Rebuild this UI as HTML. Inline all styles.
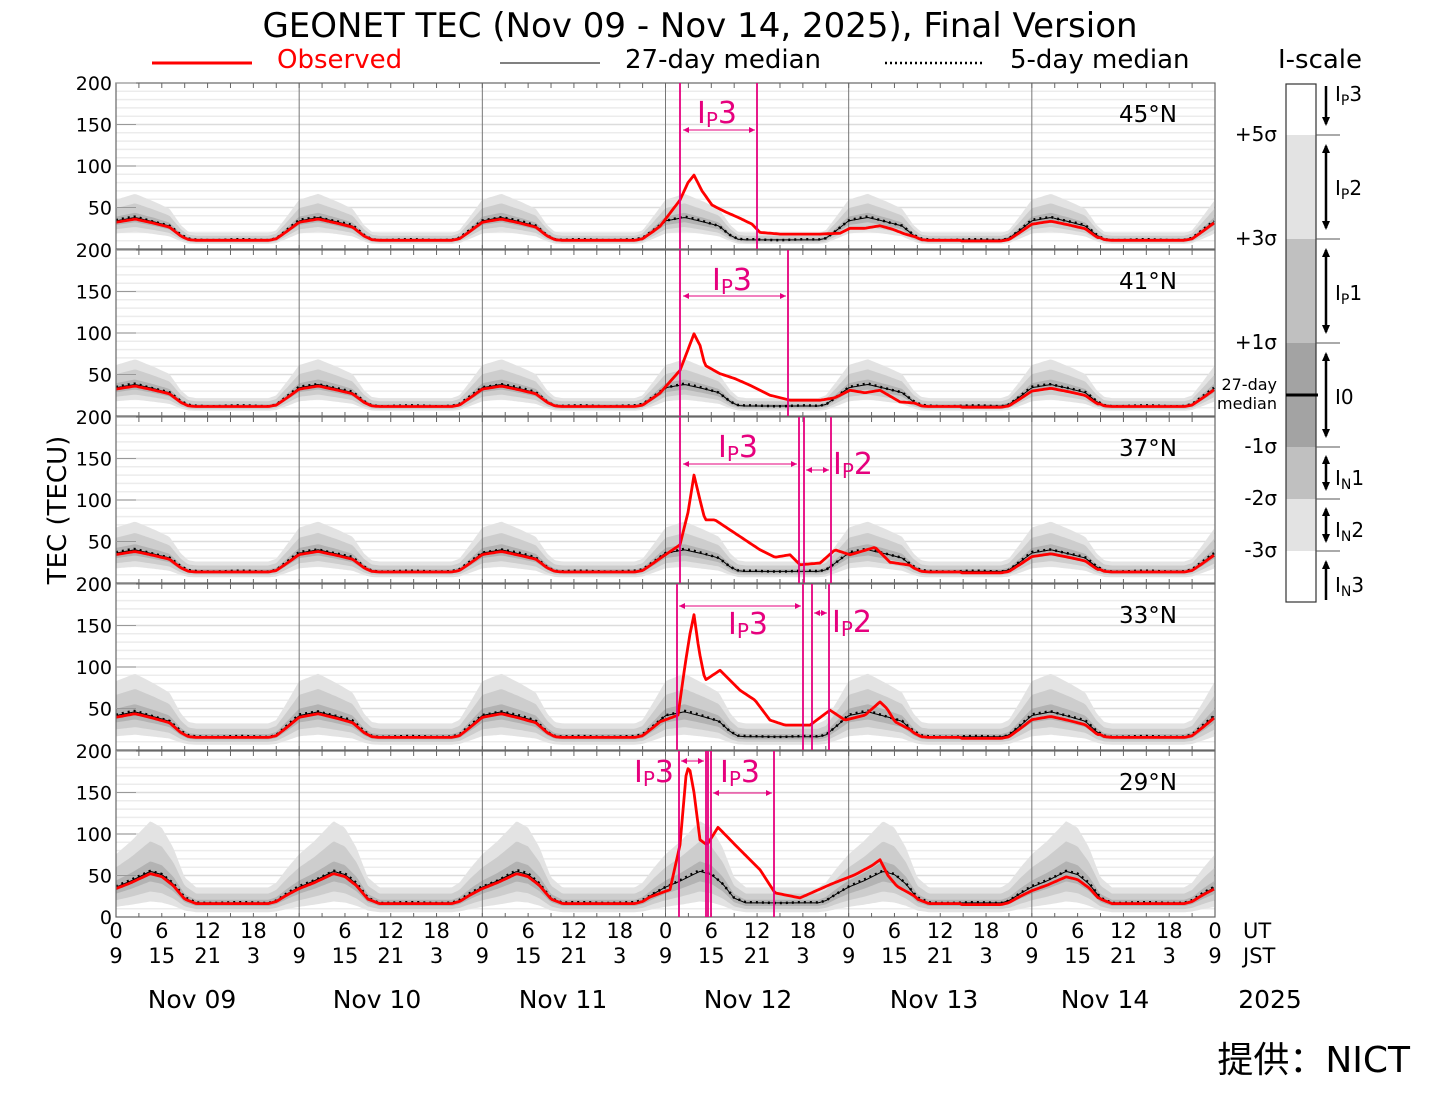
<!DOCTYPE html>
<html><head><meta charset="utf-8"><style>
body{margin:0;background:#fff;}
svg text{font-family:"DejaVu Sans","Liberation Sans",sans-serif;}
</style></head><body>
<svg id="s" width="1437" height="1106" xmlns="http://www.w3.org/2000/svg"></svg>
<script>
const S=document.getElementById('s');let h='';
const X0=116,X1=1215,DW=(X1-X0)/6,K=0.83;
const M='#e6007e';
function tx(x,y,t,sz,anc,fill,extra){h+=`<text x="${x}" y="${y}" font-size="${sz}" text-anchor="${anc||'start'}" fill="${fill||'#000'}" ${extra||''}>${t}</text>`;}
tx(700,37,'GEONET TEC (Nov 09 - Nov 14, 2025), Final Version',34,'middle');
h+=`<line x1="152" y1="63" x2="252" y2="63" stroke="red" stroke-width="3"/>`;
tx(277,68,'Observed',26,'start','red');
h+=`<line x1="500" y1="63" x2="600" y2="63" stroke="#000" stroke-width="1"/>`;
tx(625,68,'27-day median',26);
h+=`<line x1="885" y1="63" x2="983" y2="63" stroke="#000" stroke-width="2.5" stroke-dasharray="2,3"/>`;
tx(1010,68,'5-day median',26);
tx(1320,68,'I-scale',26,'middle');
const shapeA=[[0,.85],[2.5,1],[5,.8],[7,.62],[8.5,.2],[9.5,.03],[10.5,0],[20,0],[21,.07],[22.5,.45],[24,.85]];
const shapeB=[[0,.5],[2,.7],[4.5,1],[6,.9],[7.5,.6],[9,.15],[10.5,0],[20,0],[21,.07],[22.5,.3],[24,.5]];
const panels=[
 {b:249,lab:'45°N',N:11,P:38,f:0.15,sh:shapeA,obs:[[660,0],[680,59],[688,80],[694,89],[702,70],[712,53],[725,45],[740,37],[752,30],[760,20],[780,18],[800,18],[820,18],[840,19],[850,25],[865,25],[880,28],[892,24],[905,18],[915,0]]},
 {b:416,lab:'41°N',N:12,P:38,f:0.16,sh:shapeA,obs:[[660,0],[680,55],[688,80],[694,99],[700,85],[705,61],[720,51],[735,45],[750,37],[770,25],[790,19],[820,19],[835,22],[850,31],[865,28],[880,31],[900,17],[915,0]]},
 {b:583,lab:'37°N',N:14,P:40,f:0.17,sh:shapeA,obs:[[660,0],[680,46],[688,85],[694,130],[700,100],[705,76],[715,76],[735,60],[760,40],[775,31],[790,34],[800,22],[820,24],[835,40],[850,34],[875,43],[890,25],[910,0]]},
 {b:750,lab:'33°N',N:16,P:46,f:0.2,sh:shapeA,obs:[[660,0],[678,42],[685,102],[690,140],[694,163],[699,120],[705,84],[720,96],[740,72],[755,60],[770,36],[785,30],[810,30],[830,48],[845,36],[865,42],[880,58],[887,50],[895,34],[910,0]]},
 {b:917,lab:'29°N',N:17,P:55,f:0.22,sh:shapeB,obs:[[650,0],[670,33],[680,87],[686,170],[689,183],[694,150],[700,93],[707,87],[718,108],[740,81],[760,57],[775,29],[800,23],[830,39],[855,51],[872,62],[880,69],[888,50],[897,37],[915,0]]}
];
function interp(arr,x){if(x<=arr[0][0])return arr[0][1];for(let i=1;i<arr.length;i++){if(x<=arr[i][0]){const a=arr[i-1],b=arr[i];return a[1]+(b[1]-a[1])*(x-a[0])/(b[0]-a[0]);}}return arr[arr.length-1][1];}
function med(p,x){const t=((x-X0)/DW*24)%24;return p.N+(p.P-p.N)*interp(p.sh,t);}
panels.forEach((p,pi)=>{
 const o=p.obs;o[0][1]=med(p,o[0][0])*0.95;o[o.length-1][1]=med(p,o[o.length-1][0])*0.95;
 const top=p.b-166;
 h+=`<rect x="${X0}" y="${top}" width="${X1-X0}" height="166" fill="#fff"/>`;
 for(let v=10;v<200;v+=10){const y=p.b-v*K;h+=`<line x1="${X0}" y1="${y}" x2="${X1}" y2="${y}" stroke="${v%50?'#ececec':'#dcdcdc'}" stroke-width="1.5"/>`;}
 const xs=[];for(let x=X0;x<=X1;x+=2)xs.push(x);
 const band=(lo,hi,c)=>{let d='M';xs.forEach(x=>{const m=med(p,x);d+=`${x},${(p.b-(m+hi*p.f*m)*K).toFixed(1)} L`;});for(let i=xs.length-1;i>=0;i--){const x=xs[i],m=med(p,x);d+=`${x},${(p.b-Math.max(0,m+lo*p.f*m)*K).toFixed(1)} `+(i?'L':'');}h+=`<path d="${d}Z" fill="${c}"/>`;};
 band(-3,5,'#e3e3e3');band(-2,3,'#cdcdcd');band(-1,1,'#b3b3b3');
 for(let d=1;d<6;d++){const x=X0+d*DW;h+=`<line x1="${x}" y1="${top}" x2="${x}" y2="${p.b}" stroke="#777" stroke-width="1"/>`;}
 for(let k=1;k<48;k++){const x=X0+k*DW/8;h+=`<line x1="${x}" y1="${top}" x2="${x}" y2="${top+5}" stroke="#666"/><line x1="${x}" y1="${p.b}" x2="${x}" y2="${p.b-4}" stroke="#666"/>`;}
 let dm='M',d5='M',ob='M';
 xs.forEach((x,i)=>{const m=med(p,x);dm+=`${x},${(p.b-m*K).toFixed(1)} `;d5+=`${x},${(p.b-(m*1.02+0.5*Math.sin(x/9))*K).toFixed(1)} `;
  let ov;if(x>=o[0][0]&&x<=o[o.length-1][0])ov=interp(o,x);else{ov=m*0.95;if(x>960&&x<1100)ov=m*0.88;}
  ob+=`${x},${(p.b-ov*K).toFixed(1)} `;});
 h+=`<path d="${dm}" fill="none" stroke="#000" stroke-width="1"/>`;
 h+=`<path d="${d5}" fill="none" stroke="#000" stroke-width="2.5" stroke-dasharray="2,4"/>`;
 h+=`<path d="${ob}" fill="none" stroke="red" stroke-width="2.8" stroke-linejoin="round"/>`;
 h+=`<rect x="${X0}" y="${top}" width="${X1-X0}" height="166" fill="none" stroke="#666" stroke-width="1.2"/>`;
 [200,150,100,50].forEach(v=>{tx(112,p.b-v*K+7,v,19,'end');h+=`<line x1="${X0}" y1="${p.b-v*K}" x2="${X0+20}" y2="${p.b-v*K}" stroke="#999"/>`;});
 tx(1177,top+39,p.lab,23,'end');
});
tx(112,924,'0',19,'end');
const V=[[680,757],[680,788],[680,799,804,831],[677,803,812,829],[679,706,708,711,774]];
V.forEach((a,i)=>{const b=panels[i].b;a.forEach(x=>{h+=`<line x1="${x}" y1="${b-166}" x2="${x}" y2="${b}" stroke="${M}" stroke-width="1.8"/>`;});});
function arr(x1,x2,y){h+=`<line x1="${x1}" y1="${y}" x2="${x2}" y2="${y}" stroke="${M}" stroke-width="1"/><path d="M${x1},${y} l6,-3 v6z M${x2},${y} l-6,-3 v6z" fill="${M}"/>`;}
function ip(x,y,sub,n){h+=`<text x="${x}" y="${y}" font-size="30" fill="${M}">I<tspan font-size="20" dy="4">${sub}</tspan><tspan dy="-4">${n}</tspan></text>`;}
arr(683,755,130);ip(697,123,'P','3');
arr(683,786,296);ip(712,290,'P','3');
arr(683,797,464);ip(718,457,'P','3');arr(806,829,470);ip(833,474,'P','2');
arr(679,801,606);ip(728,634,'P','3');arr(814,827,613);ip(832,632,'P','2');
arr(681,704,761);ip(634,782,'P','3');arr(713,772,793);ip(720,782,'P','3');
const ut=['0','6','12','18'],js=['9','15','21','3'];
for(let d=0;d<6;d++)for(let k=0;k<4;k++){const x=X0+d*DW+k*DW/4;tx(x,938,ut[k],21,'middle');tx(x,963,js[k],21,'middle');}
tx(X1,938,'0',21,'middle');tx(X1,963,'9',21,'middle');
tx(1243,938,'UT',21);tx(1243,963,'JST',21);
['Nov 09','Nov 10','Nov 11','Nov 12','Nov 13','Nov 14'].forEach((t,i)=>{const cx=[192,377,563,748,934,1105][i];tx(cx,1008,t,25,'middle');});
tx(1270,1008,'2025',25,'middle');
h+=`<text x="0" y="0" font-size="26" text-anchor="middle" transform="translate(66,510) rotate(-90)">TEC (TECU)</text>`;
h+=`<text x="1410" y="1072" font-size="36" text-anchor="end" font-family="'Liberation Sans','Noto Sans CJK JP',sans-serif">提供：NICT</text>`;
const bx=1286,bw=30;
[[84,135,'#fff'],[135,239,'#e3e3e3'],[239,343,'#c0c0c0'],[343,447,'#a3a3a3'],[447,499,'#c0c0c0'],[499,551,'#e3e3e3'],[551,602,'#fff']].forEach(r=>{h+=`<rect x="${bx}" y="${r[0]}" width="${bw}" height="${r[1]-r[0]}" fill="${r[2]}"/>`;});
h+=`<rect x="${bx}" y="84" width="${bw}" height="518" fill="none" stroke="#333" stroke-width="1.2"/>`;
h+=`<line x1="${bx}" y1="395" x2="${bx+32}" y2="395" stroke="#000" stroke-width="3"/>`;
[135,239,343,447,499,551].forEach(y=>{h+=`<line x1="${bx+bw}" y1="${y}" x2="1340" y2="${y}" stroke="#555"/>`;});
[['+5σ',141],['+3σ',245],['+1σ',349],['-1σ',453],['-2σ',505],['-3σ',557]].forEach(a=>tx(1277,a[1],a[0],20,'end'));
tx(1277,390,'27-day',16,'end');tx(1277,409,'median',16,'end');
function va(y1,y2,up,dn){h+=`<line x1="1326" y1="${y1}" x2="1326" y2="${y2}" stroke="#000" stroke-width="2.5"/>`;if(up)h+=`<path d="M1326,${y1-2} l-4,9 h8z"/>`;if(dn)h+=`<path d="M1326,${y2+2} l-4,-9 h8z"/>`;}
va(86,124,0,1);va(146,228,1,1);va(250,332,1,1);va(354,436,1,1);va(457,489,1,1);va(509,541,1,1);va(562,600,1,0);
function il(y,s,n){h+=`<text x="1335" y="${y}" font-size="20">I<tspan font-size="14" dy="4">${s}</tspan><tspan dy="-4">${n}</tspan></text>`;}
il(101,'P','3');il(195,'P','2');il(300,'P','1');tx(1335,404,'I0',20);il(485,'N','1');il(537,'N','2');il(592,'N','3');
S.innerHTML=h;
</script>
</body></html>
